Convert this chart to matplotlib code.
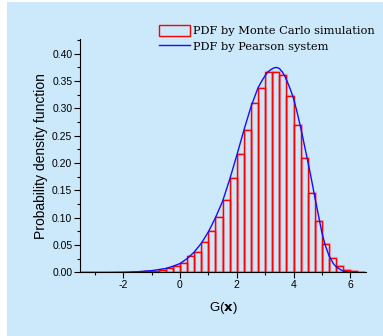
import numpy as np
import matplotlib
matplotlib.use('Agg')
from matplotlib import pyplot as plt
from matplotlib.patches import Patch, Rectangle
from matplotlib.lines import Line2D
from matplotlib.ticker import MultipleLocator, FormatStrFormatter

plt.rcParams['font.family'] = 'Liberation Sans'
plt.rcParams['axes.unicode_minus'] = False

# histogram (Monte Carlo), bin width 0.25
bin_left = np.arange(-1.75, 6.25, 0.25)
mc_pdf = [0.001, 0.001, 0.002, 0.003, 0.005, 0.007, 0.012, 0.017,
          0.029, 0.038, 0.055, 0.075, 0.101, 0.132, 0.172, 0.217,
          0.260, 0.309, 0.338, 0.366, 0.367, 0.361, 0.322, 0.269,
          0.209, 0.145, 0.093, 0.051, 0.026, 0.011, 0.004, 0.002]

# Pearson system curve
g_x = [-3.5, -2.5, -2.0, -1.5, -1.0, -0.5, -0.25, 0.0, 0.25, 0.5, 0.75,
       1.0, 1.25, 1.5, 1.75, 2.0, 2.25, 2.5, 2.75, 2.9, 3.0, 3.1, 3.2,
       3.3, 3.4, 3.5, 3.6, 3.7, 3.8, 3.9, 4.0, 4.1, 4.25, 4.4, 4.5, 4.6,
       4.75, 4.9, 5.0, 5.1, 5.25, 5.4, 5.5, 5.75, 6.0, 6.5]
pearson_pdf = [0, 0, 0.0003, 0.001, 0.003, 0.007, 0.011, 0.016, 0.025,
               0.037, 0.053, 0.074, 0.100, 0.130, 0.170, 0.214, 0.260,
               0.303, 0.338, 0.352, 0.360, 0.367, 0.371, 0.374, 0.375,
               0.373, 0.367, 0.358, 0.346, 0.333, 0.318, 0.298, 0.265,
               0.228, 0.203, 0.178, 0.137, 0.098, 0.072, 0.052, 0.030,
               0.016, 0.010, 0.002, 0, 0]

bg = '#cce9fb'
fig = plt.figure(figsize=(3.83, 3.36), dpi=100, facecolor='white')
fig.patches.append(Rectangle((7 / 383, 0), 1 - 7 / 383, 1 - 2 / 336,
                             transform=fig.transFigure, facecolor=bg,
                             edgecolor='none', zorder=-10))

ax = fig.add_axes([80 / 383, 1 - 272.3 / 336, 286 / 383, 233.3 / 336])
ax.set_facecolor('none')

# faint shadow then the red outlines
ax.bar(bin_left + 0.03, mc_pdf, width=0.25, align='edge', fill=False,
       edgecolor=(1, 0.45, 0.5, 0.45), linewidth=1.6, zorder=1)
ax.bar(bin_left, mc_pdf, width=0.25, align='edge', fill=False,
       edgecolor='red', linewidth=1.0, zorder=2)
ax.plot(g_x, pearson_pdf, color='#1010ff', linewidth=1.0, zorder=3)

ax.set_xlim(-3.52, 6.55)
ax.set_ylim(0, 0.427)
for s in ('top', 'right'):
    ax.spines[s].set_visible(False)
ax.spines['left'].set_linewidth(0.8)
ax.spines['bottom'].set_linewidth(0.8)

ax.xaxis.set_major_locator(MultipleLocator(2))
ax.xaxis.set_minor_locator(MultipleLocator(1))
ax.yaxis.set_major_locator(MultipleLocator(0.05))
ax.yaxis.set_minor_locator(MultipleLocator(0.025))
ax.yaxis.set_major_formatter(FormatStrFormatter('%.2f'))
ax.tick_params(which='major', direction='out', length=4, width=0.8,
               labelsize=7.5, pad=1.5)
ax.tick_params(which='minor', direction='out', length=2.5, width=0.8)

ax.set_ylabel('Probability density function', fontsize=10, labelpad=3)
ax.set_xlabel(r'G($\mathbf{x}$)', fontsize=9.5, labelpad=7)

handles = [Patch(facecolor='none', edgecolor='red', linewidth=1.0),
           Line2D([], [], color='#1010ff', linewidth=1.0)]
labels = ['PDF by Monte Carlo simulation', 'PDF by Pearson system']
fig.legend(handles, labels, loc='upper left',
           bbox_to_anchor=(159 / 383, 1 - 25 / 336), frameon=False,
           prop={'family': 'DejaVu Serif', 'size': 8.2},
           handlelength=2.7, handleheight=1.1, handletextpad=0.3,
           labelspacing=0.35, borderpad=0, borderaxespad=0)

fig.savefig('out.png', dpi=100, facecolor=fig.get_facecolor())
